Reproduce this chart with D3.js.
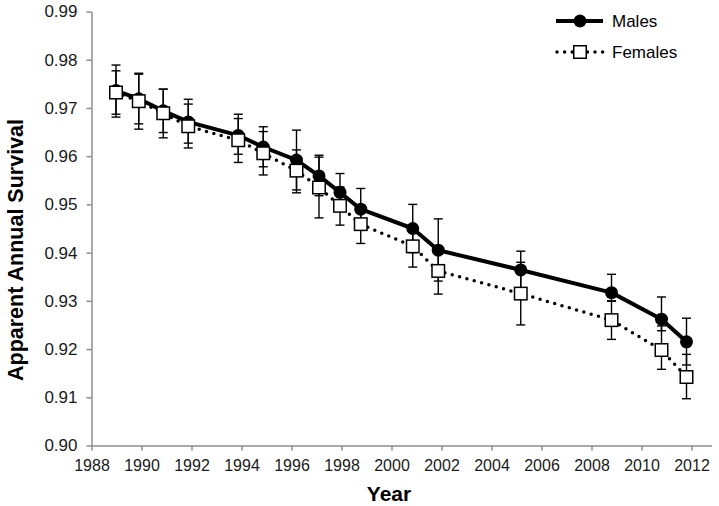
<!DOCTYPE html>
<html>
<head>
<meta charset="utf-8">
<script src="https://cdn.jsdelivr.net/npm/d3@7"></script>
<style>
  body { margin: 0; background: #fff; }
  svg { display: block; font-family: "Liberation Sans", Arial, sans-serif; }
  .axis .domain, .axis .tick line { stroke: #8c8c8c; stroke-width: 1.5; }
  .axis text { font-size: 16px; fill: #1a1a1a; }
  .y-axis text { font-size: 17px; }
</style>
</head>
<body>
<div class="chart"></div>
<script>
// survey years (fractional positions as plotted)
const years = [1988.98, 1989.89, 1990.87, 1991.87, 1993.87, 1994.87, 1996.2, 1997.1,
               1997.94, 1998.77, 2000.85, 2001.87, 2005.17, 2008.8, 2010.8, 2011.8];

const males    = [0.9736, 0.9719, 0.9694, 0.9671, 0.9643, 0.9619, 0.9592, 0.9559,
                  0.9525, 0.9490, 0.9450, 0.9405, 0.9364, 0.9317, 0.9262, 0.9215];
const malesHi  = [0.9789, 0.9772, 0.9739, 0.9718, 0.9687, 0.9661, 0.9654, 0.9602,
                  0.9564, 0.9533, 0.9500, 0.9470, 0.9403, 0.9355, 0.9308, 0.9264];
const malesLo  = [0.9681, 0.9667, 0.9649, 0.9627, 0.9604, 0.9578, 0.9530, 0.9518,
                  0.9486, 0.9447, 0.9400, 0.9341, 0.9324, 0.9300, 0.9238, 0.9167];

const females   = [0.9732, 0.9714, 0.9689, 0.9662, 0.9633, 0.9606, 0.9570, 0.9535,
                   0.9497, 0.9459, 0.9413, 0.9362, 0.9315, 0.9260, 0.9198, 0.9142];
const femalesHi = [0.9777, 0.9770, 0.9739, 0.9708, 0.9678, 0.9651, 0.9613, 0.9598,
                   0.9536, 0.9499, 0.9456, 0.9411, 0.9380, 0.9299, 0.9248, 0.9189];
const femalesLo = [0.9687, 0.9656, 0.9638, 0.9617, 0.9587, 0.9561, 0.9524, 0.9472,
                   0.9457, 0.9419, 0.9370, 0.9314, 0.9250, 0.9220, 0.9158, 0.9097];

const xTicks = d3.range(1988, 2013, 2);
const yTicks = [0.90, 0.91, 0.92, 0.93, 0.94, 0.95, 0.96, 0.97, 0.98, 0.99];

const width = 719, height = 506;

const svg = d3.select(".chart").append("svg")
    .attr("width", width)
    .attr("height", height);

const xScale = d3.scaleLinear()
    .domain([1988, 2012.8])
    .range([91.5, 711.5]);

const yScale = d3.scaleLinear()
    .domain([0.90, 0.99])
    .range([445.5, 11.5]);

const xAxis = d3.axisBottom(xScale)
    .tickValues(xTicks)
    .tickFormat(d3.format("d"))
    .tickSizeInner(5)
    .tickSizeOuter(0)
    .tickPadding(8);

const yAxis = d3.axisLeft(yScale)
    .tickValues(yTicks)
    .tickFormat(d3.format(".2f"))
    .tickSizeInner(5)
    .tickSizeOuter(0)
    .tickPadding(9);

svg.append("g")
    .attr("class", "axis x-axis")
    .attr("transform", `translate(0, ${yScale(0.90)})`)
    .call(xAxis)
    .call(g => g.selectAll("text").attr("dy", "0.75em"));

svg.append("g")
    .attr("class", "axis y-axis")
    .attr("transform", `translate(${xScale(1988)}, 0)`)
    .call(yAxis);

// axis titles
svg.append("text")
    .attr("text-anchor", "middle")
    .attr("x", 389)
    .attr("y", 501)
    .attr("font-size", 21)
    .attr("font-weight", "bold")
    .text("Year");

svg.append("text")
    .attr("text-anchor", "middle")
    .attr("transform", "translate(23, 250) rotate(-90)")
    .attr("font-size", 21.5)
    .attr("font-weight", "bold")
    .text("Apparent Annual Survival");

const cap = 4.5;

function drawSeries(vals, hi, lo, dotted) {
    const data = years.map((y, i) => ({year: y, v: vals[i], hi: hi[i], lo: lo[i]}));

    const bars = svg.append("g")
        .attr("stroke", "#000")
        .attr("stroke-width", 1.4)
        .selectAll("g")
        .data(data)
        .join("g");
    bars.append("line")
        .attr("x1", d => xScale(d.year)).attr("x2", d => xScale(d.year))
        .attr("y1", d => yScale(d.hi)).attr("y2", d => yScale(d.lo));
    bars.append("line")
        .attr("x1", d => xScale(d.year) - cap).attr("x2", d => xScale(d.year) + cap)
        .attr("y1", d => yScale(d.hi)).attr("y2", d => yScale(d.hi));
    bars.append("line")
        .attr("x1", d => xScale(d.year) - cap).attr("x2", d => xScale(d.year) + cap)
        .attr("y1", d => yScale(d.lo)).attr("y2", d => yScale(d.lo));

    const line = d3.line()
        .x(d => xScale(d.year))
        .y(d => yScale(d.v));

    const path = svg.append("path")
        .datum(data)
        .attr("fill", "none")
        .attr("stroke", "#000")
        .attr("d", line);
    if (dotted) {
        path.attr("stroke-width", 3.5)
            .attr("stroke-linecap", "round")
            .attr("stroke-dasharray", "0,7.6");
    } else {
        path.attr("stroke-width", 4)
            .attr("stroke-linejoin", "round");
    }
    return data;
}

const mData = drawSeries(males, malesHi, malesLo, false);
svg.append("g")
    .selectAll("circle")
    .data(mData)
    .join("circle")
    .attr("cx", d => xScale(d.year))
    .attr("cy", d => yScale(d.v))
    .attr("r", 6.5)
    .attr("fill", "#000");

const fData = drawSeries(females, femalesHi, femalesLo, true);
const sq = 12.5;
svg.append("g")
    .selectAll("rect")
    .data(fData)
    .join("rect")
    .attr("x", d => xScale(d.year) - sq / 2)
    .attr("y", d => yScale(d.v) - sq / 2)
    .attr("width", sq)
    .attr("height", sq)
    .attr("fill", "#fff")
    .attr("stroke", "#000")
    .attr("stroke-width", 1.5);

// legend
const legend = svg.append("g").attr("font-size", 17);
legend.append("line")
    .attr("x1", 556).attr("x2", 603).attr("y1", 21).attr("y2", 21)
    .attr("stroke", "#000").attr("stroke-width", 4);
legend.append("circle")
    .attr("cx", 580).attr("cy", 21).attr("r", 6.5).attr("fill", "#000");
legend.append("text")
    .attr("x", 612).attr("y", 27).text("Males");

legend.append("line")
    .attr("x1", 557).attr("x2", 603).attr("y1", 52).attr("y2", 52)
    .attr("stroke", "#000").attr("stroke-width", 3.5)
    .attr("stroke-linecap", "round").attr("stroke-dasharray", "0,7.6");
legend.append("rect")
    .attr("x", 580 - sq / 2).attr("y", 52 - sq / 2)
    .attr("width", sq).attr("height", sq)
    .attr("fill", "#fff").attr("stroke", "#000").attr("stroke-width", 1.5);
legend.append("text")
    .attr("x", 612).attr("y", 58).text("Females");
</script>
</body>
</html>
